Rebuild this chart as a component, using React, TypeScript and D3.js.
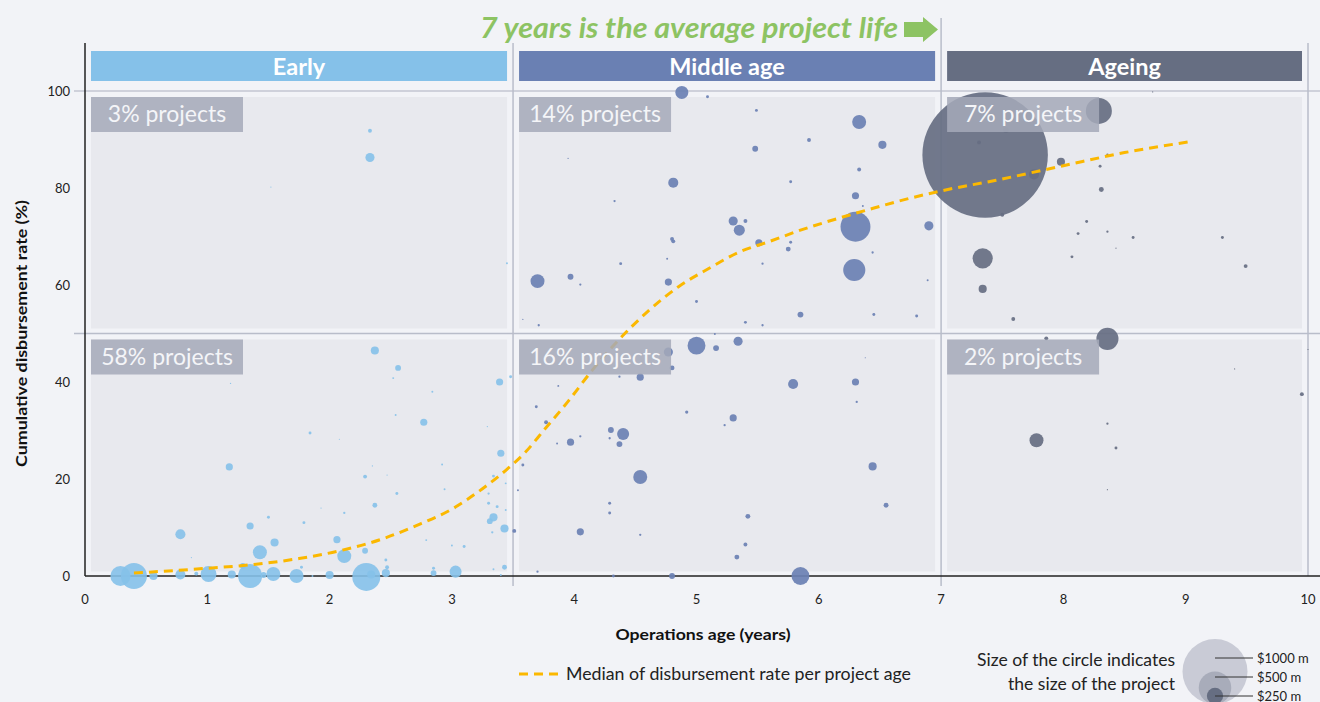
import React from "react";
import * as d3 from "d3";

// [age (years), cumulative disbursement rate (%), project size ($ m)]
const earlyProjects: [number, number, number][] = [
  [0.29, 0, 310], [0.40, 0, 400], [0.56, 0, 125], [0.78, 0.3, 155], [0.91, 0.5, 60],
  [1.01, 0.4, 245], [1.20, 0.3, 125], [1.35, 0, 370], [1.46, 0.2, 90], [1.54, 0.4, 215],
  [1.73, 0, 215], [1.86, 0, 30], [2.00, 0.2, 125], [2.30, -0.2, 430], [2.34, 0.3, 125],
  [2.46, 0.6, 125], [2.85, 0.6, 90], [3.03, 0.9, 185], [3.40, 0.2, 30],
  [0.78, 8.6, 155], [1.18, 22.5, 110], [1.19, 39.7, 20], [1.29, 2.1, 90], [1.35, 10.3, 110],
  [1.43, 4.9, 215], [1.50, 12.1, 45], [1.55, 6.9, 125], [1.77, 1.8, 45], [1.79, 11.0, 45],
  [1.84, 29.5, 45], [1.93, 14.0, 15], [2.06, 7.5, 110], [2.08, 28.2, 15], [2.12, 13.0, 35],
  [2.12, 4.1, 215], [2.29, 5.2, 90], [2.29, 20.5, 60], [2.35, 22.7, 20], [2.37, 14.6, 75],
  [2.37, 46.5, 125], [2.46, 3.3, 45], [2.47, 1.8, 60], [2.47, 20.8, 15], [2.52, 40.8, 30],
  [2.54, 33.2, 30], [2.55, 17.0, 45], [2.56, 42.9, 90], [2.77, 31.7, 110], [2.79, 7.4, 30],
  [2.84, 38.0, 30], [2.85, 1.6, 45], [2.92, 23.0, 30], [2.94, 17.9, 30], [3.00, 6.3, 30],
  [3.03, 13.9, 15], [3.10, 6.1, 45], [3.29, 30.8, 20], [3.30, 17.0, 35], [3.30, 15.0, 45],
  [3.37, 14.3, 45], [3.31, 11.3, 90], [3.34, 12.1, 125], [3.33, 9.0, 35], [3.34, 20.6, 45],
  [3.39, 40.0, 110], [3.40, 25.3, 110], [3.43, 9.8, 125], [3.43, 1.8, 75], [3.44, 19.1, 30],
  [3.44, 13.6, 30], [3.48, 41.1, 45], [3.45, 64.5, 30], [2.33, 91.8, 60], [2.33, 86.3, 140],
  [1.52, 80.2, 15], [3.34, 1.4, 30], [0.87, 3.8, 15],
];

const middleProjects: [number, number, number][] = [
  [4.88, 99.7, 200], [5.09, 98.8, 45], [5.49, 96.0, 45], [6.33, 93.6, 215], [5.92, 89.9, 60],
  [6.52, 88.9, 125], [5.48, 88.1, 90], [3.95, 86.1, 15], [6.33, 83.8, 60], [4.81, 81.1, 155],
  [5.77, 81.3, 45], [4.33, 77.3, 35], [6.30, 78.4, 110], [6.36, 76.3, 30], [5.30, 73.2, 140],
  [5.40, 73.2, 60], [5.35, 71.3, 170], [6.30, 72.0, 460], [6.90, 72.2, 140], [5.51, 68.7, 110],
  [5.77, 68.8, 45], [5.75, 67.4, 75], [4.80, 69.5, 60], [4.81, 69.0, 60], [6.44, 66.7, 35],
  [5.54, 64.4, 35], [4.38, 64.4, 45], [4.76, 65.4, 30], [6.29, 63.1, 340], [3.70, 60.8, 215],
  [3.97, 61.7, 90], [4.05, 60.1, 35], [4.77, 60.6, 110], [6.89, 61.0, 30], [5.00, 56.6, 45],
  [5.85, 53.9, 90], [6.45, 53.9, 45], [6.80, 53.6, 45], [5.40, 52.3, 45], [5.54, 51.7, 35],
  [3.71, 51.7, 35], [3.58, 52.9, 15], [5.15, 49.9, 30], [5.00, 47.5, 275], [5.16, 47.0, 90],
  [5.34, 48.4, 140], [4.77, 46.2, 140], [4.80, 42.9, 75], [4.54, 41.0, 110], [4.37, 41.1, 35],
  [3.87, 39.2, 30], [5.79, 39.6, 155], [6.30, 40.0, 110], [6.31, 35.9, 35], [6.38, 45.0, 15],
  [3.69, 34.9, 45], [4.92, 33.8, 50], [5.30, 32.6, 110], [5.23, 31.1, 35], [3.77, 31.7, 60],
  [4.30, 30.1, 90], [4.40, 29.3, 185], [4.29, 28.4, 35], [4.37, 27.2, 90], [3.97, 27.6, 110],
  [4.05, 28.8, 35], [3.86, 27.3, 30], [3.58, 22.9, 45], [6.44, 22.6, 125], [4.54, 20.4, 215],
  [3.54, 17.7, 30], [4.29, 15.0, 45], [4.29, 13.0, 45], [6.55, 14.6, 75], [5.42, 12.3, 75],
  [4.05, 9.1, 110], [4.54, 8.5, 35], [5.40, 6.5, 60], [5.33, 3.9, 75], [3.70, 0.9, 35],
  [4.32, 0, 45], [4.80, 0, 90], [5.85, 0, 275], [3.51, 9.3, 60],
];

const ageingProjects: [number, number, number][] = [
  [7.36, 86.8, 1930], [8.29, 95.9, 400], [7.53, 92.0, 90], [7.31, 89.4, 60], [7.76, 82.8, 155],
  [7.98, 85.4, 125], [8.36, 86.9, 35], [8.30, 84.5, 45], [8.31, 79.7, 75], [7.50, 74.5, 60],
  [8.19, 73.1, 45], [8.12, 70.6, 45], [8.36, 71.0, 35], [8.57, 69.8, 45], [8.43, 67.6, 15],
  [9.30, 69.8, 45], [8.07, 65.8, 45], [9.49, 63.9, 60], [7.34, 65.5, 310], [7.34, 59.2, 125],
  [7.59, 53.0, 60], [7.86, 49.0, 60], [8.36, 48.9, 340], [8.73, 99.8, 15], [9.40, 42.7, 15],
  [9.95, 37.5, 60], [8.36, 31.4, 35], [7.78, 28.0, 215], [8.43, 26.4, 45], [8.36, 17.8, 15],
  [10.0, 46.7, 15],
];

const medianAge = [0.4, 1.0, 1.35, 1.75, 2.1, 2.45, 2.7, 3.0, 3.25, 3.45, 3.6, 3.75, 3.95, 4.15, 4.35, 4.6, 4.85, 5.1, 5.35, 5.6, 5.85, 6.1, 6.4, 6.7, 7.0, 7.45, 8.0, 8.5, 9.05];
const medianRate = [0.6, 1.6, 2.3, 3.6, 5.3, 7.8, 10.3, 13.8, 18, 22, 25.5, 30, 36, 42.5, 48.3, 54.5, 59.6, 63.4, 66.8, 69, 71.3, 73.3, 75.5, 77.6, 79.4, 81.6, 84.6, 87.3, 89.6];

const stages = ["Early", "Middle age", "Ageing"];
const stageStart = [0, 3.5, 7];
const stageEnd = [3.5, 7, 10];
const topShares = ["3% projects", "14% projects", "7% projects"];
const bottomShares = ["58% projects", "16% projects", "2% projects"];
const stageColors = ["#85c1e9", "#6a80b3", "#666e82"];
const xTicks = [0, 1, 2, 3, 4, 5, 6, 7, 8, 9, 10];
const yTicks = [0, 20, 40, 60, 80, 100];
const legendSizes = [1000, 500, 250];
const legendLabels = ["$1000 m", "$500 m", "$250 m"];

const FONT = "Lato, 'Open Sans', sans-serif";

export default function App() {
  const W = 1320, H = 702;
  const x = d3.scaleLinear().domain([0, 10]).range([85, 1308]);
  const y = d3.scaleLinear().domain([0, 100]).range([576, 91]);
  const r = d3.scaleLinear().domain([0, 1000]).range([0, 32.5]);

  const line = d3
    .line<number>()
    .x((_, i) => x(medianAge[i]))
    .y((d) => y(d))
    .curve(d3.curveMonotoneX);

  const groups = [earlyProjects, middleProjects, ageingProjects];
  const legendBottom = 704;
  const legendX = 1215;
  const legendLineY = [658, 677, 696];

  return (
    <svg
      width={W}
      height={H}
      style={{ position: "absolute", left: 0, top: 0, display: "block" }}
      fontFamily={FONT}
    >
      <rect x={0} y={0} width={W} height={H} fill="#f2f3f7" />

      {/* panels */}
      {stages.map((s, i) => (
        <g key={"p" + s}>
          <rect
            x={x(stageStart[i]) + 6}
            y={y(100) + 6}
            width={x(stageEnd[i]) - x(stageStart[i]) - 12}
            height={y(50) - y(100) - 11}
            fill="#e8e9ee"
          />
          <rect
            x={x(stageStart[i]) + 6}
            y={y(50) + 6}
            width={x(stageEnd[i]) - x(stageStart[i]) - 12}
            height={y(0) - y(50) - 10.5}
            fill="#e8e9ee"
          />
          <rect
            x={x(stageStart[i]) + 6}
            y={51}
            width={x(stageEnd[i]) - x(stageStart[i]) - 12}
            height={30}
            fill={stageColors[i]}
          />
          <text
            x={(x(stageStart[i]) + x(stageEnd[i])) / 2}
            y={74.5}
            textAnchor="middle"
            fill="#ffffff"
            fontWeight="bold"
            fontSize={23.5}
          >
            {s}
          </text>
        </g>
      ))}

      {/* grid lines */}
      <line x1={74} x2={W} y1={y(100)} y2={y(100)} stroke="#c3c6d2" strokeWidth={1.5} />
      <line x1={74} x2={W} y1={y(50)} y2={y(50)} stroke="#b9bdca" strokeWidth={1.5} />
      <line x1={x(3.5)} x2={x(3.5)} y1={43} y2={586} stroke="#b9bdca" strokeWidth={1.5} />
      <line x1={x(7)} x2={x(7)} y1={18} y2={586} stroke="#b9bdca" strokeWidth={1.5} />
      <line x1={x(10)} x2={x(10)} y1={43} y2={y(0)} stroke="#b9bdca" strokeWidth={1.5} />

      {/* axes */}
      <line x1={x(0)} x2={x(0)} y1={43} y2={y(0)} stroke="#222" strokeWidth={1.5} />
      <line x1={x(0)} x2={W} y1={y(0)} y2={y(0)} stroke="#222" strokeWidth={1.5} />
      {yTicks.map((t) => (
        <text key={"yt" + t} x={70} y={y(t) + 4.5} textAnchor="end" fontSize={13} fill="#222">
          {t}
        </text>
      ))}
      {xTicks.map((t) => (
        <text key={"xt" + t} x={x(t)} y={604} textAnchor="middle" fontSize={13} fill="#222">
          {t}
        </text>
      ))}

      {/* bubbles */}
      {groups.map((g, gi) =>
        g.map((d, i) => (
          <circle
            key={gi + "-" + i}
            cx={x(d[0])}
            cy={y(d[1])}
            r={Math.max(0.6, r(d[2]))}
            fill={stageColors[gi]}
            fillOpacity={gi === 0 ? 0.9 : 0.92}
          />
        ))
      )}

      {/* median line */}
      <path
        d={line(medianRate) || ""}
        fill="none"
        stroke="#fbb800"
        strokeWidth={3}
        strokeDasharray="9 6"
      />

      {/* share labels */}
      {stages.map((s, i) => (
        <g key={"l" + s}>
          <rect x={x(stageStart[i]) + 6} y={y(100) + 6} width={152} height={35} fill="#a4a9b8" fillOpacity={0.85} />
          <text
            x={x(stageStart[i]) + 6 + 76}
            y={y(100) + 31}
            textAnchor="middle"
            fontSize={23}
            fill="#f4f5f8"
          >
            {topShares[i]}
          </text>
          <rect x={x(stageStart[i]) + 6} y={y(50) + 6} width={152} height={35} fill="#a4a9b8" fillOpacity={0.85} />
          <text
            x={x(stageStart[i]) + 6 + 76}
            y={y(50) + 31}
            textAnchor="middle"
            fontSize={23}
            fill="#f4f5f8"
          >
            {bottomShares[i]}
          </text>
        </g>
      ))}

      {/* title */}
      <text
        x={898}
        y={38}
        textAnchor="end"
        fontSize={28}
        fontWeight="bold"
        fontStyle="italic"
        fill="#8dc363"
        textLength={418}
        lengthAdjust="spacingAndGlyphs"
      >
        7 years is the average project life
      </text>
      <path d="M904,22 L923,22 L923,17 L938,29.5 L923,42 L923,37 L904,37 Z" fill="#8dc363" />

      {/* axis titles */}
      <text
        transform={`translate(27,${y(50)}) rotate(-90)`}
        textAnchor="middle"
        fontSize={16}
        fontWeight="bold"
        fill="#111"
        textLength={267}
        lengthAdjust="spacingAndGlyphs"
      >
        Cumulative disbursement rate (%)
      </text>
      <text
        x={703}
        y={640}
        textAnchor="middle"
        fontSize={16}
        fontWeight="bold"
        fill="#111"
        textLength={175}
        lengthAdjust="spacingAndGlyphs"
      >
        Operations age (years)
      </text>

      {/* median legend */}
      <line x1={519} x2={558} y1={674} y2={674} stroke="#fbb800" strokeWidth={3} strokeDasharray="9 6" />
      <text x={566} y={680} fontSize={17.5} fill="#222" textLength={345} lengthAdjust="spacingAndGlyphs">
        Median of disbursement rate per project age
      </text>

      {/* size legend */}
      <text x={1175} y={666} textAnchor="end" fontSize={17.5} fill="#222" textLength={198} lengthAdjust="spacingAndGlyphs">
        Size of the circle indicates
      </text>
      <text x={1175} y={690} textAnchor="end" fontSize={17.5} fill="#222" textLength={167} lengthAdjust="spacingAndGlyphs">
        the size of the project
      </text>
      {legendSizes.map((s, i) => (
        <circle
          key={"lc" + s}
          cx={legendX}
          cy={legendBottom - r(s)}
          r={r(s)}
          fill={["#c9cbd6", "#a8acba", "#666e82"][i]}
        />
      ))}
      {legendSizes.map((s, i) => (
        <g key={"ll" + s}>
          <line x1={legendX} x2={1253} y1={legendLineY[i]} y2={legendLineY[i]} stroke="#333" strokeWidth={1} />
          <text x={1257} y={legendLineY[i] + 4.5} fontSize={13} fill="#222">
            {legendLabels[i]}
          </text>
        </g>
      ))}
    </svg>
  );
}
